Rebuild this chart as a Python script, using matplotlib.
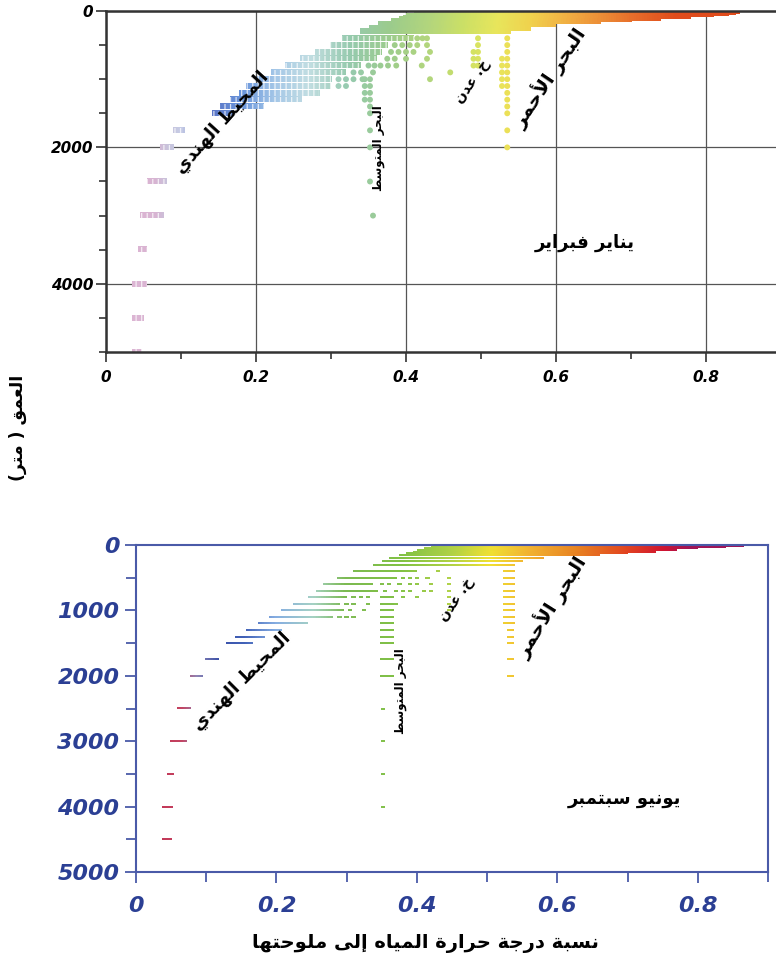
import numpy as np
import matplotlib
matplotlib.use("Agg")
import matplotlib.pyplot as plt
from matplotlib.colors import LinearSegmentedColormap, Normalize
from matplotlib.patches import Rectangle
from matplotlib.ticker import MultipleLocator

# --- data (depth in m, x = temperature/salinity ratio)
LEVELS = [0, 10, 20, 30, 50, 75, 100, 125, 150, 200, 250, 300, 400, 500, 600,
          700, 800, 900, 1000, 1100, 1200, 1300, 1400, 1500, 1750, 2000, 2500,
          3000, 3500, 4000, 4500, 5000]

# January-February: extent of each depth row
janfeb_lo = [0.432, 0.425, 0.42, 0.415, 0.41, 0.40, 0.396, 0.39, 0.38, 0.363,
             0.35, 0.339, 0.315, 0.298, 0.278, 0.258, 0.239, 0.22, 0.201,
             0.187, 0.177, 0.165, 0.152, 0.141, 0.089, 0.072, 0.055, 0.045,
             0.042, 0.035, 0.035, 0.035]
janfeb_hi = [0.845, 0.845, 0.84, 0.83, 0.81, 0.78, 0.74, 0.70, 0.66, 0.60,
             0.565, 0.54, 0.41, 0.375, 0.367, 0.36, 0.34, 0.32, 0.30, 0.30,
             0.284, 0.26, 0.21, 0.17, 0.105, 0.09, 0.081, 0.076, 0.054, 0.054,
             0.05, 0.048]
# single dots: row tails, Mediterranean, Gulf of Aden, Red Sea
janfeb_dot_depth = [400, 400, 400, 500, 500, 500, 500, 500, 600, 600, 600, 600,
                    600, 700, 700, 700, 700, 800, 800, 800, 800, 800, 800, 900,
                    900, 900, 900, 1000, 1000, 1000, 1000, 1000, 1100, 1100,
                    1000, 1100, 1200, 1300, 1400, 1500, 1750, 2000, 2500, 3000,
                    1000, 1100, 1200, 1300,
                    400, 500, 600, 700, 800, 600, 700, 800,
                    400, 500, 600, 700, 800, 900, 1000, 1100, 1200, 1300, 1400,
                    1500, 1750, 2000, 700, 800, 900, 1000, 1100]
janfeb_dot_x = [0.415, 0.422, 0.428, 0.385, 0.395, 0.405, 0.415, 0.428, 0.38,
                0.39, 0.40, 0.41, 0.432, 0.375, 0.385, 0.40, 0.428, 0.35, 0.358,
                0.366, 0.376, 0.387, 0.421, 0.33, 0.34, 0.356, 0.459, 0.31,
                0.32, 0.33, 0.342, 0.432, 0.31, 0.32,
                0.352, 0.352, 0.352, 0.352, 0.352, 0.352, 0.352, 0.352, 0.352,
                0.356, 0.345, 0.345, 0.345, 0.345,
                0.496, 0.496, 0.496, 0.496, 0.496, 0.49, 0.49, 0.49,
                0.535, 0.535, 0.535, 0.535, 0.535, 0.535, 0.535, 0.535, 0.535,
                0.535, 0.535, 0.535, 0.535, 0.535, 0.528, 0.528, 0.528, 0.528,
                0.528]

# June-September
junsep_levels = LEVELS[:-1]
junsep_lo = [0.44, 0.43, 0.425, 0.42, 0.41, 0.40, 0.394, 0.385, 0.375, 0.36,
             0.35, 0.337, 0.309, 0.286, 0.267, 0.257, 0.245, 0.224, 0.207,
             0.19, 0.174, 0.157, 0.141, 0.128, 0.098, 0.077, 0.058, 0.048,
             0.044, 0.037, 0.037]
junsep_hi = [0.87, 0.865, 0.855, 0.84, 0.80, 0.77, 0.74, 0.70, 0.66, 0.58,
             0.55, 0.53, 0.40, 0.371, 0.337, 0.345, 0.30, 0.29, 0.296, 0.28,
             0.245, 0.207, 0.183, 0.166, 0.117, 0.095, 0.077, 0.072, 0.053,
             0.052, 0.05]
# short column segments: Mediterranean and Red Sea
junsep_seg_depth = [800, 900, 1000, 1100, 1200, 1300, 1400, 1500, 1750, 2000,
                    300, 400, 500, 600, 700, 800, 900, 1000, 1100, 1200,
                    1300, 1400, 1500, 1750, 2000]
junsep_seg_lo = [0.347] * 10 + [0.522] * 10 + [0.528] * 5
junsep_seg_hi = [0.366] * 10 + [0.538] * 10 + [0.537] * 5
junsep_dot_depth = [500, 500, 500, 500, 600, 600, 600, 600, 600, 600, 700, 700,
                    700, 700, 700, 800, 800, 800, 800, 800, 900, 900, 900, 900,
                    1000, 1000, 1100, 1100, 1100,
                    2500, 3000, 3500, 4000,
                    400, 500, 600, 700, 800, 900, 1000, 700]
junsep_dot_x = [0.38, 0.39, 0.40, 0.415, 0.35, 0.36, 0.375, 0.39, 0.40, 0.42,
                0.355, 0.37, 0.38, 0.39, 0.41, 0.31, 0.32, 0.33, 0.38, 0.40,
                0.30, 0.31, 0.33, 0.37, 0.305, 0.325, 0.29, 0.30, 0.31,
                0.352, 0.352, 0.352, 0.352,
                0.43, 0.446, 0.446, 0.446, 0.446, 0.446, 0.446, 0.42]

# --- Arabic shaping (matplotlib has no RTL / joining support)
FORMS = {
    "ا": ("\uFE8D", "\uFE8E", None, None), "أ": ("\uFE83", "\uFE84", None, None),
    "إ": ("\uFE87", "\uFE88", None, None),
    "ب": ("\uFE8F", "\uFE90", "\uFE91", "\uFE92"),
    "ة": ("\uFE93", "\uFE94", None, None),
    "ت": ("\uFE95", "\uFE96", "\uFE97", "\uFE98"),
    "ج": ("\uFE9D", "\uFE9E", "\uFE9F", "\uFEA0"),
    "ح": ("\uFEA1", "\uFEA2", "\uFEA3", "\uFEA4"),
    "خ": ("\uFEA5", "\uFEA6", "\uFEA7", "\uFEA8"),
    "د": ("\uFEA9", "\uFEAA", None, None), "ر": ("\uFEAD", "\uFEAE", None, None),
    "س": ("\uFEB1", "\uFEB2", "\uFEB3", "\uFEB4"),
    "ط": ("\uFEC1", "\uFEC2", "\uFEC3", "\uFEC4"),
    "ع": ("\uFEC9", "\uFECA", "\uFECB", "\uFECC"),
    "ف": ("\uFED1", "\uFED2", "\uFED3", "\uFED4"),
    "ق": ("\uFED5", "\uFED6", "\uFED7", "\uFED8"),
    "ل": ("\uFEDD", "\uFEDE", "\uFEDF", "\uFEE0"),
    "م": ("\uFEE1", "\uFEE2", "\uFEE3", "\uFEE4"),
    "ن": ("\uFEE5", "\uFEE6", "\uFEE7", "\uFEE8"),
    "ه": ("\uFEE9", "\uFEEA", "\uFEEB", "\uFEEC"),
    "و": ("\uFEED", "\uFEEE", None, None), "ى": ("\uFEEF", "\uFEF0", None, None),
    "ي": ("\uFEF1", "\uFEF2", "\uFEF3", "\uFEF4"),
}
LAMALEF = {"ا": ("\uFEFB", "\uFEFC"), "أ": ("\uFEF7", "\uFEF8"),
           "إ": ("\uFEF9", "\uFEFA")}


def ar(text):
    out = []
    i = 0
    while i < len(text):
        c = text[i]
        if c not in FORMS:
            out.append(c)
            i += 1
            continue
        prev = i > 0 and text[i - 1] in FORMS and FORMS[text[i - 1]][2] is not None
        if c == "ل" and i + 1 < len(text) and text[i + 1] in LAMALEF:
            iso, fin = LAMALEF[text[i + 1]]
            out.append(fin if prev else iso)
            i += 2
            continue
        iso, fin, ini, med = FORMS[c]
        nxt = ini is not None and i + 1 < len(text) and text[i + 1] in FORMS
        out.append(med if prev and nxt else fin if prev else ini if nxt else iso)
        i += 1
    vis = "".join(reversed(out))
    return vis.translate(str.maketrans("()", ")("))


# --- colours along x
janfeb_cmap = LinearSegmentedColormap.from_list("janfeb", [
    (0.0, "#e2b8d6"), (0.07, "#d8b4d2"), (0.09, "#c8c4dc"), (0.11, "#c6cce6"),
    (0.15, "#5a72c4"), (0.20, "#6a96dc"), (0.25, "#a6c8e8"), (0.30, "#c2dee2"),
    (0.36, "#96caae"), (0.42, "#9ccc8c"), (0.48, "#b4d67c"), (0.53, "#cce066"),
    (0.58, "#e8e65c"), (0.63, "#f0d24e"), (0.70, "#f0a640"), (0.78, "#e8702c"),
    (0.85, "#e04c1c"), (1.0, "#e04c1c")])
junsep_cmap = LinearSegmentedColormap.from_list("junsep", [
    (0.0, "#c22a4c"), (0.07, "#c44462"), (0.095, "#8e86b6"), (0.13, "#3a50a8"),
    (0.17, "#4262b8"), (0.22, "#86aee2"), (0.28, "#a6d2c4"), (0.33, "#7cba52"),
    (0.42, "#82c244"), (0.50, "#b2d244"), (0.56, "#f0e032"), (0.62, "#f2b432"),
    (0.70, "#e88222"), (0.78, "#e24420"), (0.84, "#d01432"), (0.88, "#a01456"),
    (1.0, "#a01456")])
NORM = Normalize(0.0, 0.9)

W, H = 776, 971
plt.rcParams["font.family"] = ["DejaVu Sans"]
plt.rcParams["hatch.linewidth"] = 0.9
fig = plt.figure(figsize=(W / 100, H / 100), dpi=100)


def px_box(left, top, right, bottom):
    return [left / W, 1 - bottom / H, (right - left) / W, (bottom - top) / H]


def draw_rows(ax, depths, lo, hi, height, cmap, dotted_below=None):
    for d, x0, x1 in zip(depths, lo, hi):
        ramp = np.linspace(x0, x1, 48).reshape(1, -1)
        ax.imshow(ramp, cmap=cmap, norm=NORM, aspect="auto",
                  interpolation="bilinear", zorder=2,
                  extent=(x0, x1, d + height / 2, d - height / 2))
        if dotted_below is not None and d >= dotted_below:
            # break the row into beads like the plotted dots of the original
            ax.add_patch(Rectangle((x0, d - height / 2), x1 - x0, height,
                                   facecolor="none",
                                   edgecolor=(1, 1, 1, 0.75),
                                   hatch="|||", lw=0, zorder=2.5))


def label(ax, x, y, text, size, rot):
    ax.text(x, y, ar(text), fontsize=size, fontweight="bold", rotation=rot,
            ha="center", va="center", rotation_mode="anchor", zorder=5)


# ---------------- top panel: January - February
ax1 = fig.add_axes(px_box(106, 11, 781, 352))
draw_rows(ax1, LEVELS, janfeb_lo, janfeb_hi, 80, janfeb_cmap, dotted_below=400)
ax1.scatter(janfeb_dot_x, janfeb_dot_depth, c=janfeb_dot_x, cmap=janfeb_cmap,
            norm=NORM, s=18, edgecolors="none", zorder=3)
ax1.set_xlim(0, 0.9)
ax1.set_ylim(5000, 0)
ax1.xaxis.set_major_locator(MultipleLocator(0.2))
ax1.xaxis.set_minor_locator(MultipleLocator(0.1))
ax1.yaxis.set_major_locator(MultipleLocator(2000))
ax1.yaxis.set_minor_locator(MultipleLocator(500))
ax1.xaxis.set_major_formatter(lambda v, p: "0" if v == 0 else f"{v:.1f}")
ax1.set_axisbelow(True)
ax1.grid(True, which="major", color="#555555", lw=0.9)
for s in ax1.spines.values():
    s.set_color("#333333")
    s.set_linewidth(1.8)
ax1.tick_params(which="both", direction="out", color="#333333", width=1.2)
ax1.tick_params(which="major", length=7)
ax1.tick_params(which="minor", length=5)
ax1.tick_params(axis="x", pad=6)
ax1.tick_params(axis="y", pad=2)
for t in ax1.get_xticklabels() + ax1.get_yticklabels():
    t.set_fontsize(11)
    t.set_fontweight("bold")
    t.set_fontstyle("oblique")

label(ax1, 0.155, 1630, "المحيط الهندي", 13, 48)
label(ax1, 0.363, 2015, "البحر المتوسط", 8.5, 90)
label(ax1, 0.488, 1040, "خ. عدن", 10, 55)
label(ax1, 0.592, 985, "البحر الأحمر", 14, 56)
label(ax1, 0.639, 3400, "يناير فبراير", 13, 0)

# ---------------- bottom panel: June - September
BLUE = "#4a5aa8"
ax2 = fig.add_axes(px_box(136, 545, 768, 872))
draw_rows(ax2, junsep_levels, junsep_lo, junsep_hi, 30, junsep_cmap)
draw_rows(ax2, junsep_seg_depth, junsep_seg_lo, junsep_seg_hi, 30, junsep_cmap)
ax2.scatter(junsep_dot_x, junsep_dot_depth, c=junsep_dot_x, cmap=junsep_cmap,
            norm=NORM, marker="_", s=10, linewidths=1.4, zorder=3)
ax2.set_xlim(0, 0.9)
ax2.set_ylim(5000, 0)
ax2.xaxis.set_major_locator(MultipleLocator(0.2))
ax2.xaxis.set_minor_locator(MultipleLocator(0.1))
ax2.yaxis.set_major_locator(MultipleLocator(1000))
ax2.yaxis.set_minor_locator(MultipleLocator(500))
ax2.xaxis.set_major_formatter(lambda v, p: "0" if v == 0 else f"{v:.1f}")
for s in ax2.spines.values():
    s.set_color(BLUE)
    s.set_linewidth(1.5)
ax2.tick_params(which="both", direction="out", color=BLUE, width=1.3,
                labelcolor="#2b3f94")
ax2.tick_params(which="major", length=8)
ax2.tick_params(which="minor", length=7)
ax2.tick_params(axis="x", pad=9)
ax2.tick_params(axis="y", pad=4)
for t in ax2.get_xticklabels() + ax2.get_yticklabels():
    t.set_fontsize(16)
    t.set_fontweight("bold")
    t.set_fontstyle("oblique")

label(ax2, 0.151, 2090, "المحيط الهندي", 13, 45)
label(ax2, 0.376, 2240, "البحر المتوسط", 8.5, 90)
label(ax2, 0.457, 840, "خ. عدن", 10, 55)
label(ax2, 0.592, 945, "البحر الأحمر", 14, 58)
label(ax2, 0.696, 3890, "يونيو سبتمبر", 13, 0)

# ---------------- shared axis titles
fig.text(18 / W, 1 - 428 / H, ar("العمق ( متر)"), rotation=90, fontsize=12.5,
         fontweight="bold", ha="center", va="center")
fig.text(425 / W, 1 - 943 / H, ar("نسبة درجة حرارة المياه إلى ملوحتها"),
         fontsize=14, fontweight="bold", ha="center", va="center")

fig.savefig("out.png", dpi=100)
